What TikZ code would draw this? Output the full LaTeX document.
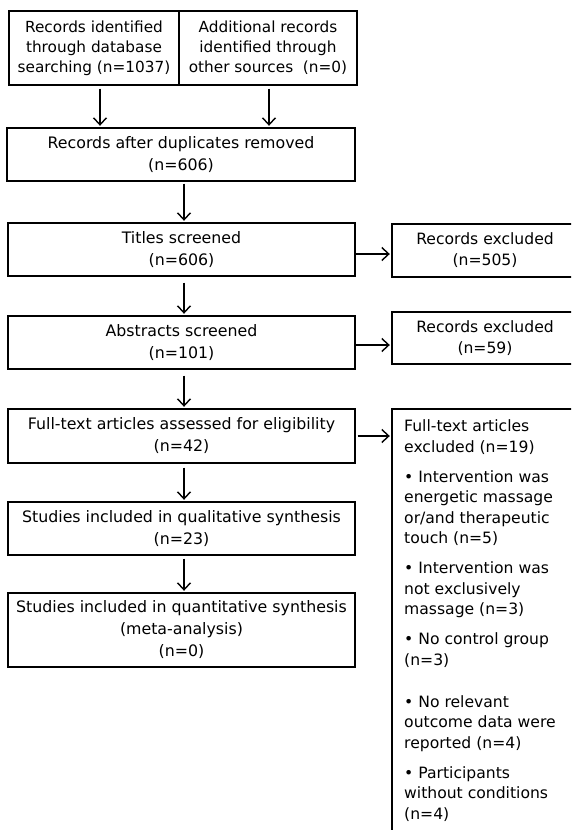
\documentclass[tikz,border=0pt]{standalone}
\usepackage{fontspec}
\setmainfont{DejaVu Sans}
\usetikzlibrary{arrows.meta}
\begin{document}
\begin{tikzpicture}[x=1pt,y=-1pt,
  box/.style={draw, line width=1.4pt, inner sep=0pt, align=center, font=\fontsize{15.8}{22}\selectfont},
  topbox/.style={box, font=\fontsize{15.3}{20}\selectfont},
  arr/.style={line width=1.4pt, -{Straight Barb[length=7pt,width=13pt,line width=1.4pt]}, shorten >=1.5pt}]
\useasboundingbox (0,0) rectangle (571,830);
\clip (0,0) rectangle (571,830);
\node[topbox, minimum width=170pt, minimum height=74pt] (tl) at (94,48) {Records identified\\through database\\searching (n=1037)};
\node[topbox, minimum width=178pt, minimum height=74pt] (tr) at (268,48) {Additional records\\identified through\\other sources\ \ (n=0)};
\node[box, minimum width=348pt, minimum height=53pt] (dup) at (181,154.5) {Records after duplicates removed\\(n=606)};
\node[box, minimum width=347pt, minimum height=53pt] (tit) at (181.5,249.5) {Titles screened\\(n=606)};
\node[box, minimum width=347pt, minimum height=53pt] (abs) at (181.5,342.5) {Abstracts screened\\(n=101)};
\node[box, minimum width=347pt, minimum height=54pt] (ft) at (181.5,436) {Full-text articles assessed for eligibility\\(n=42)};
\node[box, minimum width=347pt, minimum height=53pt] (qual) at (181.5,528.5) {Studies included in qualitative synthesis\\(n=23)};
\node[box, minimum width=347pt, minimum height=74pt] (quant) at (181.5,630) {Studies included in quantitative synthesis\\(meta-analysis)\\(n=0)};
\node[box, minimum width=186pt, minimum height=53pt, font=\fontsize{15.6}{21}\selectfont] (ex1) at (485,250.5) {Records excluded\\(n=505)};
\node[box, minimum width=186pt, minimum height=52pt, font=\fontsize{15.6}{21}\selectfont] (ex2) at (485,338) {Records excluded\\(n=59)};
\node[draw, line width=1.4pt, inner sep=0pt, minimum width=186pt, minimum height=441pt] (ex3) at (485,629.5) {};
\node[anchor=north west, inner sep=0pt, align=left, font=\fontsize{15.6}{20.5}\selectfont] (ex3t) at (404,419.6)
  {Full-text articles\\excluded (n=19)\\[9.5pt]
   • Intervention was\\energetic massage\\or/and therapeutic\\touch (n=5)\\[9.5pt]
   • Intervention was\\not exclusively\\massage (n=3)\\[9.5pt]
   • No control group\\(n=3)\\[21.5pt]
   • No relevant\\outcome data were\\reported (n=4)\\[9.5pt]
   • Participants\\without conditions\\(n=4)};
\draw[arr, shorten <=3pt] ([xshift=6pt]tl.south) -- ([xshift=6pt]tl.south |- dup.north);
\draw[arr, shorten <=3pt] ([xshift=1pt]tr.south) -- ([xshift=1pt]tr.south |- dup.north);
\draw[arr, shorten <=2pt] ([xshift=3pt]dup.south) -- ([xshift=3pt]dup.south |- tit.north);
\draw[arr, shorten <=6pt] ([xshift=2.5pt]tit.south) -- ([xshift=2.5pt]tit.south |- abs.north);
\draw[arr, shorten <=6pt] ([xshift=2.5pt]abs.south) -- ([xshift=2.5pt]abs.south |- ft.north);
\draw[arr, shorten <=4pt] ([xshift=2.5pt]ft.south) -- ([xshift=2.5pt]ft.south |- qual.north);
\draw[arr, shorten <=3pt] ([xshift=2.5pt]qual.south) -- ([xshift=2.5pt]qual.south |- quant.north);
\draw[arr] ([yshift=-4.5pt]tit.east) -- ([yshift=-4.5pt]tit.east -| ex1.west);
\draw[arr] ([yshift=-2.5pt]abs.east) -- ([yshift=-2.5pt]abs.east -| ex2.west);
\draw[arr, shorten <=2pt] (ft.east) -- (ft.east -| ex3.west);
\end{tikzpicture}
\end{document}
